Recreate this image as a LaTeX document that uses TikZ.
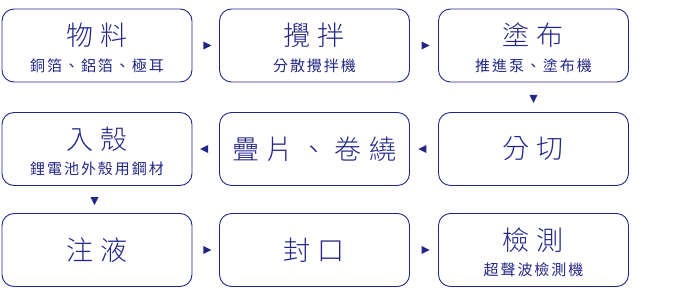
\documentclass[tikz,border=0pt]{standalone}
\usepackage{fontspec}
\newfontfamily\cjkT[LetterSpace=26]{Noto Sans CJK TC Light}
\newfontfamily\cjkS[LetterSpace=13]{Noto Sans CJK TC}
\usetikzlibrary{shapes.geometric}
\definecolor{navy}{RGB}{35,38,135}
\begin{document}
\begin{tikzpicture}[x=1pt,y=-1pt,
 box/.style={draw=navy, line width=0.9pt, rounded corners=12pt, minimum width=190pt, minimum height=73pt, inner sep=0pt},
 ttl/.style={text=navy, font=\cjkT\fontsize{27}{29}\selectfont, inner sep=0pt},
 sub/.style={text=navy, font=\cjkS\fontsize{15}{17}\selectfont, inner sep=0pt},
 tri/.style={isosceles triangle, isosceles triangle stretches, fill=navy, draw=none, inner sep=0pt, minimum width=8pt, minimum height=8pt},
 arrR/.style={tri, shape border rotate=0},
 arrL/.style={tri, shape border rotate=180},
 arrD/.style={tri, shape border rotate=-90}]
\useasboundingbox (0,0) rectangle (692,297);
% boxes
\node[box] (b1) at (97,45.5) {};
\node[box] (b2) at (314.5,45.5) {};
\node[box] (b3) at (533.5,45.5) {};
\node[box] (b4) at (97,149) {};
\node[box] (b5) at (314.5,149) {};
\node[box] (b6) at (533.5,149) {};
\node[box] (b7) at (97,250) {};
\node[box] (b8) at (314.5,250) {};
\node[box] (b9) at (533.5,250) {};
% texts
\node[ttl,yshift=10pt] (t1) at (b1) {物料};
\node[sub,yshift=-20pt] (s1) at (b1) {銅箔、鋁箔、極耳};
\node[ttl,yshift=10pt] (t2) at (b2) {攪拌};
\node[sub,yshift=-20pt] (s2) at (b2) {分散攪拌機};
\node[ttl,yshift=10pt] (t3) at (b3) {塗布};
\node[sub,yshift=-20pt] (s3) at (b3) {推進泵、塗布機};
\node[ttl,yshift=10pt] (t4) at (b4) {入殼};
\node[sub,yshift=-20pt] (s4) at (b4) {鋰電池外殼用鋼材};
\node[ttl] (t5) at (b5) {疊片、卷繞};
\node[ttl] (t6) at (b6) {分切};
\node[ttl] (t7) at (b7) {注液};
\node[ttl] (t8) at (b8) {封口};
\node[ttl,yshift=10pt] (t9) at (b9) {檢測};
\node[sub,yshift=-20pt] (s9) at (b9) {超聲波檢測機};
% connectors (arrowheads only)
\path (b1.east) -- node[arrR] (a12) {} (b2.west);
\path (b2.east) -- node[arrR] (a23) {} (b3.west);
\path (b3.south) -- node[arrD] (a36) {} (b6.north);
\path (b6.west) -- node[arrL] (a65) {} (b5.east);
\path (b5.west) -- node[arrL] (a54) {} (b4.east);
\path (b4.south) -- node[arrD,xshift=-2.5pt] (a47) {} (b7.north);
\path (b7.east) -- node[arrR] (a78) {} (b8.west);
\path (b8.east) -- node[arrR] (a89) {} (b9.west);
\end{tikzpicture}
\end{document}
